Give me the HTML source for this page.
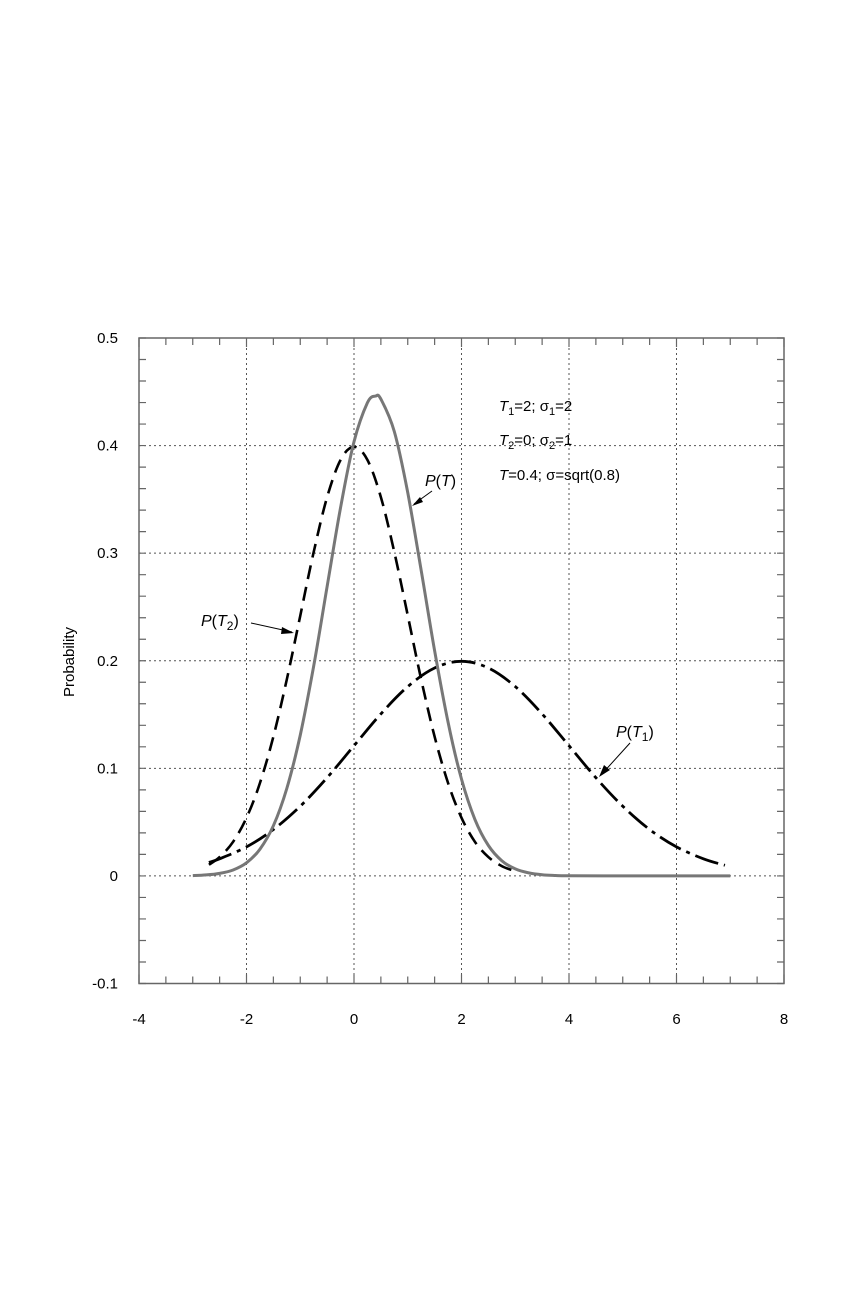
<!DOCTYPE html>
<html><head><meta charset="utf-8"><style>
body{margin:0;background:#fff;}
svg text{font-family:"Liberation Sans",Arial,sans-serif;fill:#000;}
</style></head><body>
<svg id="chart" width="860" height="1300" viewBox="0 0 860 1300" xmlns="http://www.w3.org/2000/svg">
<g id="grid"></g>
<g id="series"></g>
<g id="axes"></g>
<g font-size="15">
<text x="499" y="411"><tspan font-style="italic">T</tspan><tspan font-size="11" dy="4">1</tspan><tspan dy="-4">=2; σ</tspan><tspan font-size="11" dy="4">1</tspan><tspan dy="-4">=2</tspan></text>
<text x="499" y="445"><tspan font-style="italic">T</tspan><tspan font-size="11" dy="4">2</tspan><tspan dy="-4">=0; σ</tspan><tspan font-size="11" dy="4">2</tspan><tspan dy="-4">=1</tspan></text>
<text x="499" y="480"><tspan font-style="italic">T</tspan>=0.4; σ=sqrt(0.8)</text>
</g>
<g font-size="16">
<text x="425" y="486"><tspan font-style="italic">P</tspan>(<tspan font-style="italic">T</tspan>)</text>
<line x1="432" y1="491" x2="414" y2="504" stroke="#000" stroke-width="1"/>
<polygon points="412,506 420,497 423,502" fill="#000"/>
<text x="201" y="626"><tspan font-style="italic">P</tspan>(<tspan font-style="italic">T</tspan><tspan font-size="12" dy="4">2</tspan><tspan dy="-4">)</tspan></text>
<line x1="251" y1="623" x2="292" y2="632" stroke="#000" stroke-width="1"/>
<polygon points="294,633 282,627 281,634" fill="#000"/>
<text x="616" y="737"><tspan font-style="italic">P</tspan>(<tspan font-style="italic">T</tspan><tspan font-size="12" dy="4">1</tspan><tspan dy="-4">)</tspan></text>
<line x1="630" y1="743" x2="601" y2="775" stroke="#000" stroke-width="1"/>
<polygon points="599,777 604,765 610,770" fill="#000"/>
</g>
<text x="0" y="0" transform="translate(74,662) rotate(-90)" text-anchor="middle" font-size="15">Probability</text>
</svg>
<script>
const xTicks=[-4,-2,0,2,4,6,8];
const yTicks=[-0.1,0,0.1,0.2,0.3,0.4,0.5];
const yTickLabels=["-0.1","0","0.1","0.2","0.3","0.4","0.5"];
const ptX=[-3,-2.75,-2.5,-2.25,-2,-1.75,-1.5,-1.25,-1,-0.75,-0.5,-0.25,0,0.25,0.4,0.5,0.75,1,1.25,1.5,1.75,2,2.25,2.5,2.75,3,3.25,3.5,3.75,4,5,6,7];
const ptY=[0.0003,0.0009,0.0023,0.0055,0.0122,0.0248,0.0467,0.0813,0.131,0.1951,0.2689,0.3425,0.4036,0.4398,0.446,0.4432,0.4131,0.3561,0.2839,0.2094,0.1428,0.09,0.0525,0.0283,0.0141,0.0065,0.0028,0.0011,0.0004,0.0001,0,0,0];
const pt1X=[-2.7,-2.5,-2,-1.5,-1,-0.5,0,0.5,1,1.5,2,2.5,3,3.5,4,4.5,5,5.5,6,6.5,6.9];
const pt1Y=[0.0126,0.0159,0.027,0.0431,0.0648,0.0913,0.121,0.1506,0.176,0.1933,0.1995,0.1933,0.176,0.1506,0.121,0.0913,0.0648,0.0431,0.027,0.0159,0.0099];
const pt2X=[-2.7,-2.5,-2.25,-2,-1.75,-1.5,-1.25,-1,-0.75,-0.5,-0.25,0,0.25,0.5,0.75,1,1.25,1.5,1.75,2,2.25,2.5,2.75,3];
const pt2Y=[0.0104,0.0175,0.0317,0.054,0.0863,0.1295,0.1826,0.242,0.3011,0.352,0.3867,0.3989,0.3867,0.352,0.3011,0.242,0.1826,0.1295,0.0863,0.054,0.0317,0.0175,0.0091,0.0044];

const L=139,R=784,T=338,B=983.5;
const sx=v=>L+(v+4)/12*(R-L);
const sy=v=>B-(v+0.1)/0.6*(B-T);
const NS="http://www.w3.org/2000/svg";
function mk(tag,attrs,parent){const e=document.createElementNS(NS,tag);for(const k in attrs)e.setAttribute(k,attrs[k]);parent.appendChild(e);return e;}
const grid=document.getElementById('grid'),axes=document.getElementById('axes'),series=document.getElementById('series');
xTicks.forEach((v,i)=>{
  if(i>0&&i<xTicks.length-1){const g=mk('line',{x1:sx(v),x2:sx(v),y1:T,y2:B,stroke:'#555','stroke-width':1,'stroke-dasharray':'2,3'},grid);
  
  }
  const t=mk('text',{x:sx(v),y:1024,'text-anchor':'middle','font-size':15},axes);t.textContent=v;
  
  
});
yTicks.forEach((v,i)=>{
  if(i>0&&i<yTicks.length-1){const g=mk('line',{x1:L,x2:R,y1:sy(v),y2:sy(v),stroke:'#555','stroke-width':1,'stroke-dasharray':'2,3'},grid);
  
  }
  const t=mk('text',{x:118,y:sy(v)+5,'text-anchor':'end','font-size':15},axes);t.textContent=yTickLabels[i];
  
  
});
let d='';
for(let v=-4;v<=8.001;v+=0.5){const x=sx(v),len=(Math.abs(v%2)<0.01)?9:7;d+=`M${x},${B}v${-len}M${x},${T}v${len}`;}
for(let v=-0.1;v<=0.5001;v+=0.02){const y=sy(v);d+=`M${L},${y}h7M${R},${y}h-7`;}
const tk=mk('path',{d:d,stroke:'#666','stroke-width':1.2,fill:'none'},axes);


const fr=mk('rect',{x:L,y:T,width:R-L,height:B-T,fill:'none',stroke:'#666','stroke-width':1.5},axes);


function line(xs,ys,attrs,name){
  const P=xs.map((x,i)=>[sx(x),sy(ys[i])]);
  let dd=`M${P[0][0].toFixed(1)},${P[0][1].toFixed(1)}`;
  for(let i=0;i<P.length-1;i++){
    const p0=P[Math.max(0,i-1)],p1=P[i],p2=P[i+1],p3=P[Math.min(P.length-1,i+2)];
    const c1=[p1[0]+(p2[0]-p0[0])/6,p1[1]+(p2[1]-p0[1])/6];
    const c2=[p2[0]-(p3[0]-p1[0])/6,p2[1]-(p3[1]-p1[1])/6];
    dd+=`C${c1[0].toFixed(1)},${c1[1].toFixed(1)} ${c2[0].toFixed(1)},${c2[1].toFixed(1)} ${p2[0].toFixed(1)},${p2[1].toFixed(1)}`;
  }
  const p=mk('path',Object.assign({d:dd,fill:'none','stroke-linejoin':'round'},attrs),series);
  
  
}
line(pt1X,pt1Y,{stroke:'#000','stroke-width':2.8,'stroke-dasharray':'24,6,4,6'},'series-pt1');
line(pt2X,pt2Y,{stroke:'#000','stroke-width':2.6,'stroke-dasharray':'14,8'},'series-pt2');
line(ptX,ptY,{stroke:'#777','stroke-width':3},'series-pt');
</script>
</body></html>
